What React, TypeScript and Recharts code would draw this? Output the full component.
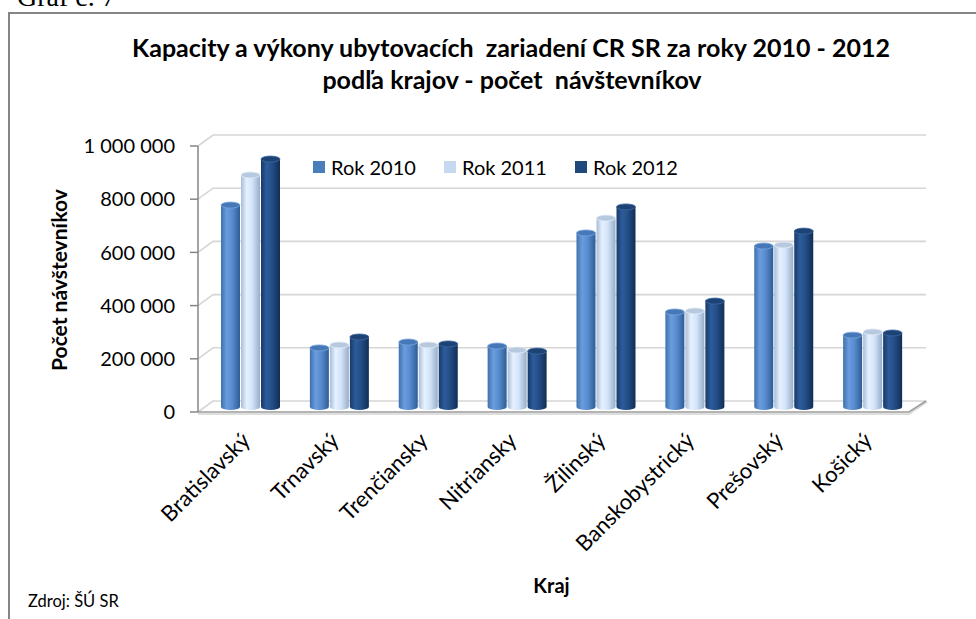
import { Bar, BarChart, CartesianGrid, Legend, XAxis, YAxis } from "recharts";

const regions = [
  "Bratislavský",
  "Trnavský",
  "Trenčiansky",
  "Nitriansky",
  "Žilinský",
  "Banskobystrický",
  "Prešovský",
  "Košický",
];
const visitors2010 = [778000, 241000, 263000, 248000, 673000, 376000, 624000, 289000];
const visitors2011 = [891000, 252000, 252000, 233000, 729000, 380000, 628000, 301000];
const visitors2012 = [951000, 282000, 256000, 229000, 771000, 417000, 680000, 297000];
const yTicks = [0, 200000, 400000, 600000, 800000, 1000000];

const chartData = regions.map((kraj, i) => ({
  kraj,
  r2010: visitors2010[i],
  r2011: visitors2011[i],
  r2012: visitors2012[i],
}));

const FONT = "Lato, 'Open Sans', sans-serif";
const DEPTH_X = 15;
const DEPTH_Y = -11;

function formatThousands(value: number) {
  return String(value).replace(/\B(?=(\d{3})+(?!\d))/g, " ");
}

function makeCylinder(id: string, stops: [number, string][], top: string, rim: string) {
  return (props: any) => {
    const { x, y, width, height } = props;
    if (!height || height <= 0) {
      return <g />;
    }
    const rx = width / 2;
    const ry = 3;
    const bottom = y + height - 5;
    return (
      <g>
        <defs>
          <linearGradient id={id} x1="0" y1="0" x2="1" y2="0">
            {stops.map(([offset, color]) => (
              <stop key={offset} offset={`${offset}%`} stopColor={color} />
            ))}
          </linearGradient>
        </defs>
        <path
          d={`M${x},${y} L${x},${bottom} A${rx},${ry} 0 0 0 ${x + width},${bottom} L${x + width},${y} Z`}
          fill={`url(#${id})`}
        />
        <ellipse cx={x + rx} cy={y} rx={rx} ry={ry} fill={top} stroke={rim} strokeWidth={0.8} />
      </g>
    );
  };
}

const cylinder2010 = makeCylinder(
  "cyl2010",
  [[0, "#3f70ad"], [30, "#6a9dde"], [60, "#578bcd"], [100, "#2e5c96"]],
  "#4677b6",
  "#79a6de"
);
const cylinder2011 = makeCylinder(
  "cyl2011",
  [[0, "#a7bdd8"], [30, "#e6f1ff"], [60, "#d2e3f8"], [100, "#97adc8"]],
  "#b7c9df",
  "#e2ecf8"
);
const cylinder2012 = makeCylinder(
  "cyl2012",
  [[0, "#173a6b"], [30, "#2d5c9a"], [60, "#234d86"], [100, "#122d56"]],
  "#1d4274",
  "#3c6aa6"
);

function WallLine(props: any) {
  const { x1, x2, y1 } = props;
  const isFloor = y1 > 405;
  return (
    <g>
      <polyline
        points={`${x1},${y1} ${x1 + DEPTH_X},${y1 + DEPTH_Y} ${x2 + 9},${y1 + DEPTH_Y}`}
        fill="none"
        stroke="#d6d6d6"
        strokeWidth={1.6}
      />
      {isFloor && (
        <>
          <polyline
            points={`${x1},${y1 + 2} ${x2 - 8},${y1 + 2} ${x2 + 10},${y1 + DEPTH_Y + 1}`}
            fill="none"
            stroke="#d4d4d4"
            strokeWidth={1.5}
          />
          <polyline
            points={`${x1},${y1} ${x2 - 8},${y1} ${x2 + 9},${y1 + DEPTH_Y}`}
            fill="none"
            stroke="#9c9c9c"
            strokeWidth={1.5}
          />
        </>
      )}
    </g>
  );
}

function RegionTick(props: any) {
  const { x, y, payload } = props;
  const ax = x + 1;
  const ay = y + 22;
  return (
    <text
      x={ax}
      y={ay}
      transform={`rotate(-45 ${ax} ${ay})`}
      textAnchor="end"
      fontFamily={FONT}
      fontSize={22}
      fill="#000"
    >
      {payload.value}
    </text>
  );
}

function YTitle(props: any) {
  const { viewBox } = props;
  const cx = viewBox.x + 67;
  const cy = viewBox.y + viewBox.height / 2 + 1;
  return (
    <text
      x={cx}
      y={cy}
      transform={`rotate(-90 ${cx} ${cy})`}
      textAnchor="middle"
      fontFamily={FONT}
      fontWeight="bold"
      fontSize={21}
      fill="#000"
    >
      Počet návštevníkov
    </text>
  );
}

function XTitle(props: any) {
  const { viewBox } = props;
  return (
    <text
      x={viewBox.x + viewBox.width / 2 - 6}
      y={viewBox.y + 181}
      textAnchor="middle"
      fontFamily={FONT}
      fontWeight="bold"
      fontSize={20}
      fill="#000"
    >
      Kraj
    </text>
  );
}

function LegendBox({ payload }: any) {
  return (
    <div style={{ display: "flex", fontFamily: FONT, fontSize: 20, color: "#000" }}>
      {(payload || []).map((entry: any) => (
        <div key={entry.value} style={{ width: 131, display: "flex", alignItems: "center" }}>
          <span style={{ width: 12, height: 12, background: entry.color, marginRight: 6 }} />
          <span>{entry.value}</span>
        </div>
      ))}
    </div>
  );
}

export default function App() {
  return (
    <div style={{ position: "absolute", left: 0, top: 0, width: 976, height: 619, overflow: "hidden", background: "#fff" }}>
      <div
        style={{
          position: "absolute",
          left: 8,
          top: 12,
          width: 1000,
          height: 700,
          borderLeft: "2px solid #858585",
          borderTop: "2px solid #858585",
        }}
      />
      <svg width={976} height={619} style={{ position: "absolute", left: 0, top: 0 }}>
        <text x={17} y={6} fontFamily="'Liberation Serif', 'DejaVu Serif', serif" fontSize={28} fill="#000">
          Graf č. 7
        </text>
        <text x={511} y={57} textAnchor="middle" fontFamily={FONT} fontWeight="bold" fontSize={25} fill="#000" style={{ whiteSpace: "pre" }}>
          Kapacity a výkony ubytovacích  zariadení CR SR za roky 2010 - 2012
        </text>
        <text x={512} y={89} textAnchor="middle" fontFamily={FONT} fontWeight="bold" fontSize={25} fill="#000" style={{ whiteSpace: "pre" }}>
          podľa krajov - počet  návštevníkov
        </text>
        <text x={28} y={607} fontFamily={FONT} fontSize={16.5} fill="#000">
          Zdroj: ŠÚ SR
        </text>
      </svg>
      <div style={{ position: "absolute", left: 0, top: 0 }}>
        <BarChart
          width={976}
          height={619}
          data={chartData}
          margin={{ top: 146, right: 59, bottom: 0, left: 0 }}
          barSize={19}
          barGap={1}
        >
          <CartesianGrid vertical={false} horizontal={(p: any) => <WallLine key={p.key} {...p} />} />
          <XAxis
            dataKey="kraj"
            height={207}
            axisLine={false}
            tickLine={false}
            interval={0}
            padding={{ left: 8, right: 0 }}
            tick={<RegionTick />}
            label={<XTitle />}
          />
          <YAxis
            domain={[0, 1000000]}
            ticks={yTicks}
            width={198}
            tickSize={8}
            tickMargin={15}
            axisLine={{ stroke: "#868686", strokeWidth: 1.5 }}
            tickLine={{ stroke: "#868686", strokeWidth: 1.5 }}
            tick={{ fill: "#000", fontFamily: FONT, fontSize: 20 }}
            tickFormatter={formatThousands}
            label={<YTitle />}
          />
          <Legend
            verticalAlign="middle"
            align="center"
            layout="horizontal"
            wrapperStyle={{ left: 313, top: 155, width: 420, height: 22 }}
            content={<LegendBox />}
          />
          <Bar dataKey="r2010" name="Rok 2010" fill="#4a7ebb" shape={cylinder2010} isAnimationActive={false} />
          <Bar dataKey="r2011" name="Rok 2011" fill="#c6d9f1" shape={cylinder2011} isAnimationActive={false} />
          <Bar dataKey="r2012" name="Rok 2012" fill="#1f497d" shape={cylinder2012} isAnimationActive={false} />
        </BarChart>
      </div>
    </div>
  );
}
